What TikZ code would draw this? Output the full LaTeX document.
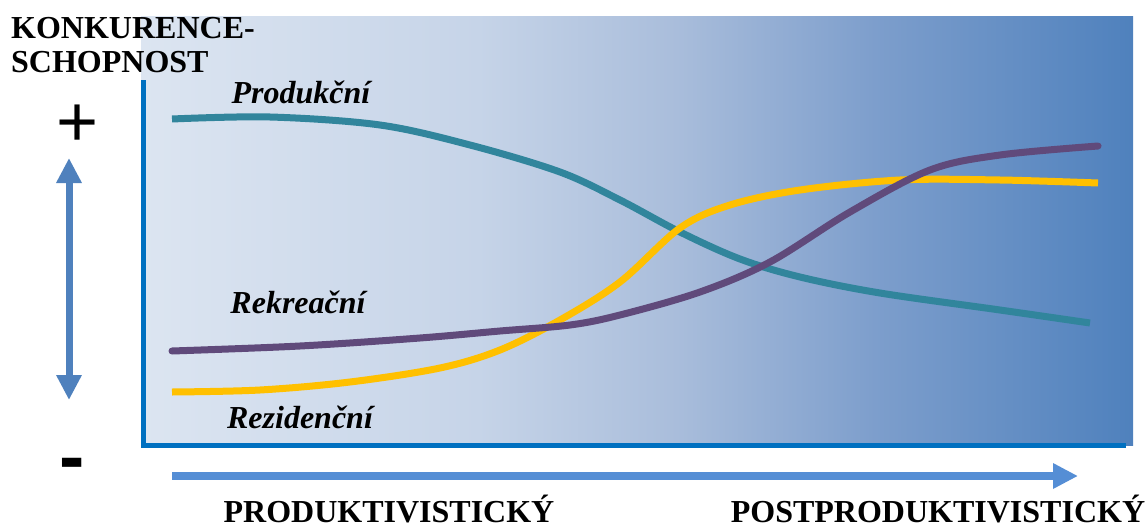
\documentclass[tikz,border=0pt]{standalone}
\usepackage{fontspec}
\setmainfont{Liberation Serif}
\newfontfamily\symfont{Liberation Sans}
\usetikzlibrary{arrows.meta}
\definecolor{bgA}{HTML}{DCE5F1}
\definecolor{bgB}{HTML}{C6D4E8}
\definecolor{bgC}{HTML}{A9BDDB}
\definecolor{bgD}{HTML}{7D9ECC}
\definecolor{bgE}{HTML}{4F81BD}
\definecolor{axisblue}{HTML}{0070C0}
\definecolor{arrowblue}{HTML}{4F81BD}
\definecolor{botarrow}{HTML}{558ED5}
\definecolor{teal}{HTML}{31859C}
\definecolor{purp}{HTML}{604A7B}
\definecolor{gold}{HTML}{FFC000}
\pgfdeclarehorizontalshading{bgshade}{100bp}{color(0bp)=(bgA); color(25bp)=(bgA); color(42bp)=(bgB); color(52bp)=(bgC); color(62bp)=(bgD); color(75bp)=(bgE); color(100bp)=(bgE)}
\tikzset{
  curve/.style={line width=7pt, smooth, tension=0.55},
  axisline/.style={draw=axisblue, line width=5pt},
  biglabel/.style={font=\fontsize{32}{35}\selectfont\bfseries, inner sep=0pt},
  curvelabel/.style={font=\fontsize{32}{35}\selectfont\bfseries\itshape, inner sep=0pt},
}
\begin{document}
\begin{tikzpicture}[x=1pt,y=-1pt]
\useasboundingbox (0,0) rectangle (1148,527);
% background
\shade[shading=bgshade] (141,17) rectangle (1133,445);
% axes
\coordinate (ytop) at (143,80);
\coordinate (origin) at (143,445);
\coordinate (xend) at (1126,445);
\draw[axisline] (ytop) -- (origin) -- (xend);
% curves
\draw[teal, curve] plot coordinates {(172,119) (270,117) (380,125) (470,145) (560,172) (620,200) (680,232) (740,259) (800,277) (880,293) (1000,310) (1090,323)};
\draw[gold, curve] plot coordinates {(172,392) (260,390) (350,382) (440,368) (500,350) (560,320) (620,282) (680,228) (730,205) (800,190) (900,180) (1000,180) (1098,183)};
\draw[purp, curve, line cap=round] plot coordinates {(172,351) (300,346) (420,338) (500,331) (570,325) (620,315) (700,292) (770,262) (850,212) (930,170) (1000,155) (1098,146)};
% curve labels
\node[curvelabel] (prod) at (301,92) {Produkční};
\node[curvelabel] (rekr) at (298,302) {Rekreační};
\node[curvelabel] (rezi) at (300,417) {Rezidenční};
% y label
\node[biglabel, anchor=base west, align=left] (ylab) at (11,73) {KONKURENCE-\\SCHOPNOST};
% double arrow
\coordinate (dtop) at (69,158);
\coordinate (dbot) at (69,400);
\draw[arrowblue, line width=7pt, {Triangle[width=24pt,length=25pt]}-{Triangle[width=24pt,length=25pt]}] (dtop) -- (dbot);
\node[font=\symfont\fontsize{72}{72}\selectfont, inner sep=0pt] (plus) at (78,126) {+};
\node[font=\symfont\bfseries\fontsize{76}{76}\selectfont, inner sep=0pt] (minus) at (72,470) {-};
% bottom arrow
\coordinate (bstart) at (172,476);
\coordinate (bend) at (1078,476);
\draw[botarrow, line width=8pt, -{Triangle[width=24pt,length=25pt]}] (bstart) -- (bend);
\node[biglabel, anchor=base] (prodlab) at (389,522) {PRODUKTIVISTICKÝ};
\node[biglabel, anchor=base] (postlab) at (938,522) {POSTPRODUKTIVISTICKÝ};
\end{tikzpicture}
\end{document}
